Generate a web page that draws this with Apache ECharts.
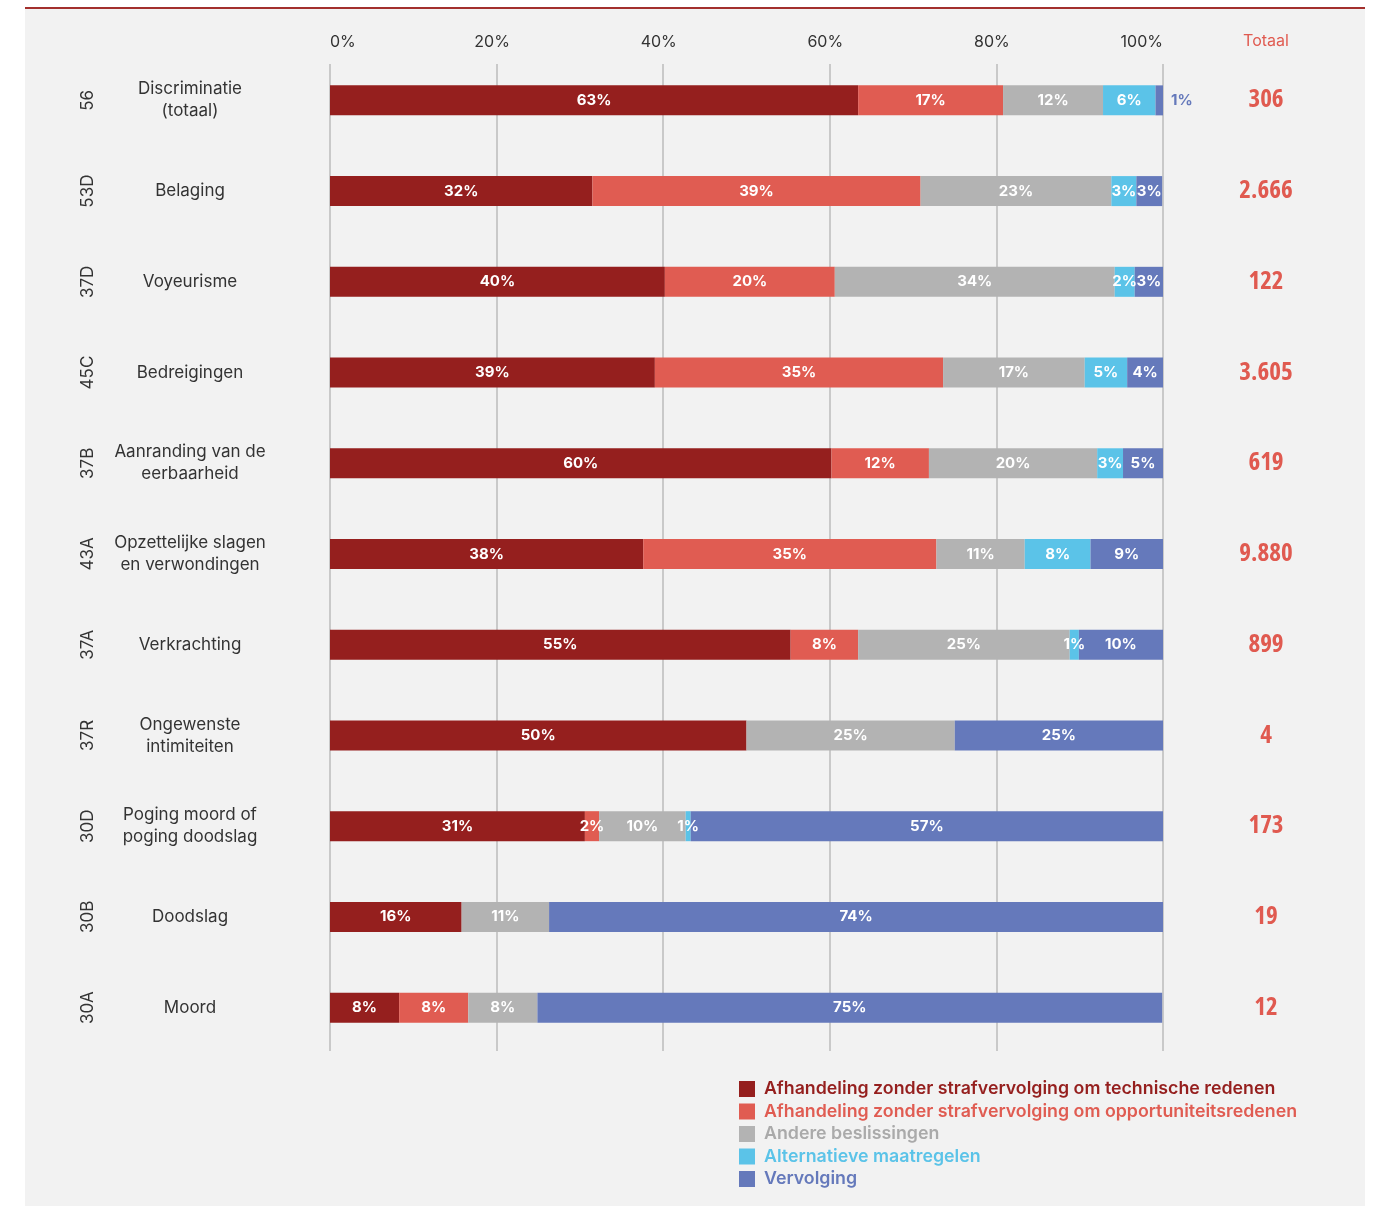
<!DOCTYPE html>
<html>
<head>
<meta charset="utf-8">
<script src="https://cdn.jsdelivr.net/npm/echarts@6/dist/echarts.min.js"></script>
<style>
  html, body { margin: 0; padding: 0; background: #ffffff; }
  #panel { position: absolute; left: 25px; top: 7px; width: 1340px; height: 1199px; background: #f2f2f2; border-top: 2px solid #a3302d; box-sizing: border-box; }
  #chart { position: absolute; left: 0; top: 0; width: 1376px; height: 1206px; }
</style>
</head>
<body>
<div id="panel"></div>
<div id="chart"></div>
<script>
// ---- Data ----
const codes = ['56', '53D', '37D', '45C', '37B', '43A', '37A', '37R', '30D', '30B', '30A'];
const names = ['Discriminatie\n(totaal)', 'Belaging', 'Voyeurisme', 'Bedreigingen', 'Aanranding van de\neerbaarheid',
  'Opzettelijke slagen\nen verwondingen', 'Verkrachting', 'Ongewenste\nintimiteiten', 'Poging moord of\npoging doodslag', 'Doodslag', 'Moord'];
const totals = ['306', '2.666', '122', '3.605', '619', '9.880', '899', '4', '173', '19', '12'];

const seriesNames = [
  'Afhandeling zonder strafvervolging om technische redenen',
  'Afhandeling zonder strafvervolging om opportuniteitsredenen',
  'Andere beslissingen',
  'Alternatieve maatregelen',
  'Vervolging'
];
const technisch     = [63.4, 31.5, 40.2, 39.0, 60.2, 37.6, 55.3, 50, 30.6, 15.8, 8.3];
const opportuniteit = [17.4, 39.4, 20.4, 34.6, 11.7, 35.2, 8.1, 0, 1.7, 0, 8.3];
const andere        = [12.0, 22.9, 33.6, 17.0, 20.2, 10.6, 25.4, 25, 10.4, 10.5, 8.3];
const alternatief   = [6.3, 3.0, 2.4, 5.1, 3.1, 7.9, 1.1, 0, 0.6, 0, 0];
const vervolging    = [0.9, 3.1, 3.4, 4.3, 4.8, 8.7, 10.1, 25, 56.7, 73.7, 75];

const axisMin = 0, axisMax = 100, axisStep = 20;
const colors = ['#951f1e', '#e05c52', '#b3b3b3', '#5bc3e8', '#6579bb'];
const legendTextColors = ['#951f1e', '#e05c52', '#aaaaaa', '#5bc3e8', '#6579bb'];

const FONT = 'Inter, "Noto Sans", sans-serif';

const valueSets = [technisch, opportuniteit, andere, alternatief, vervolging];

const series = valueSets.map((vals, si) => ({
  name: seriesNames[si],
  type: 'bar',
  stack: 'total',
  xAxisIndex: 0,
  yAxisIndex: 0,
  barWidth: 30,
  itemStyle: { color: colors[si] },
  label: {
    show: true,
    position: 'inside',
    color: '#ffffff',
    fontFamily: FONT,
    fontSize: 15,
    fontWeight: 'bold',
    formatter: p => p.value > 0 ? Math.round(p.value) + '%' : ''
  },
  emphasis: { disabled: true },
  data: vals.map((v, i) => {
    // first row: the tiny last segment carries its label outside the bar
    if (si === 4 && i === 0) {
      return { value: v, label: { position: 'right', distance: 8, color: colors[4] } };
    }
    return v;
  })
}));

const chart = echarts.init(document.getElementById('chart'), null, { renderer: 'canvas' });

chart.setOption({
  backgroundColor: 'transparent',
  animation: false,
  title: {
    text: 'Totaal',
    left: 1266,
    top: 33,
    textAlign: 'center',
    padding: 0,
    textStyle: { color: '#e05a50', fontFamily: FONT, fontSize: 16, fontWeight: 'normal' }
  },
  legend: {
    orient: 'vertical',
    left: 739,
    top: 1080,
    padding: 0,
    icon: 'rect',
    itemWidth: 16,
    itemHeight: 16,
    itemGap: 4.5,
    selectedMode: false,
    textStyle: { fontFamily: FONT, fontSize: 17.8, fontWeight: 600, padding: [0, 0, 0, 4] },
    data: seriesNames.map((n, i) => ({ name: n, textStyle: { color: legendTextColors[i] } }))
  },
  grid: [
    { left: 330, right: 213, top: 55, height: 998 },
    { left: 330, right: 213, top: 64, height: 987 }
  ],
  xAxis: [
    { gridIndex: 0, type: 'value', min: axisMin, max: axisMax, show: false },
    {
      gridIndex: 1, type: 'value', position: 'top', min: axisMin, max: axisMax, interval: axisStep,
      axisLine: { show: false }, axisTick: { show: false },
      splitLine: { show: true, lineStyle: { color: '#c9c9c9', width: 2 } },
      axisLabel: {
        color: '#333333', fontFamily: FONT, fontSize: 16, margin: 14,
        alignMinLabel: 'left', alignMaxLabel: 'right',
        formatter: v => (v === axisMin || v === axisMax) ? '{e|' + v + '%}' : '{m|' + v + '%}',
        rich: {
          e: { color: '#333333', fontFamily: FONT, fontSize: 16 },
          m: { color: '#333333', fontFamily: FONT, fontSize: 16, padding: [0, 9, 0, 0] }
        }
      }
    }
  ],
  yAxis: [
    {
      gridIndex: 0, type: 'category', inverse: true, position: 'left', data: names,
      axisLine: { show: false }, axisTick: { show: false },
      axisLabel: { color: '#333333', fontFamily: FONT, fontSize: 17, lineHeight: 22, align: 'center', margin: 140 }
    },
    {
      gridIndex: 0, type: 'category', inverse: true, position: 'left', data: codes,
      axisLine: { show: false }, axisTick: { show: false },
      axisLabel: { color: '#333333', fontFamily: FONT, fontSize: 17, rotate: 90, align: 'center', verticalAlign: 'middle', margin: 242 }
    },
    {
      gridIndex: 0, type: 'category', inverse: true, position: 'right', data: totals,
      axisLine: { show: false }, axisTick: { show: false },
      axisLabel: {
        color: '#e05a50', align: 'center', margin: 103,
        fontFamily: '"Open Sans", "Noto Sans", sans-serif', fontWeight: 'bold condensed', fontSize: 25
      }
    },
    { gridIndex: 1, type: 'value', show: false, min: 0, max: 1 }
  ],
  series: series
});
</script>
</body>
</html>
